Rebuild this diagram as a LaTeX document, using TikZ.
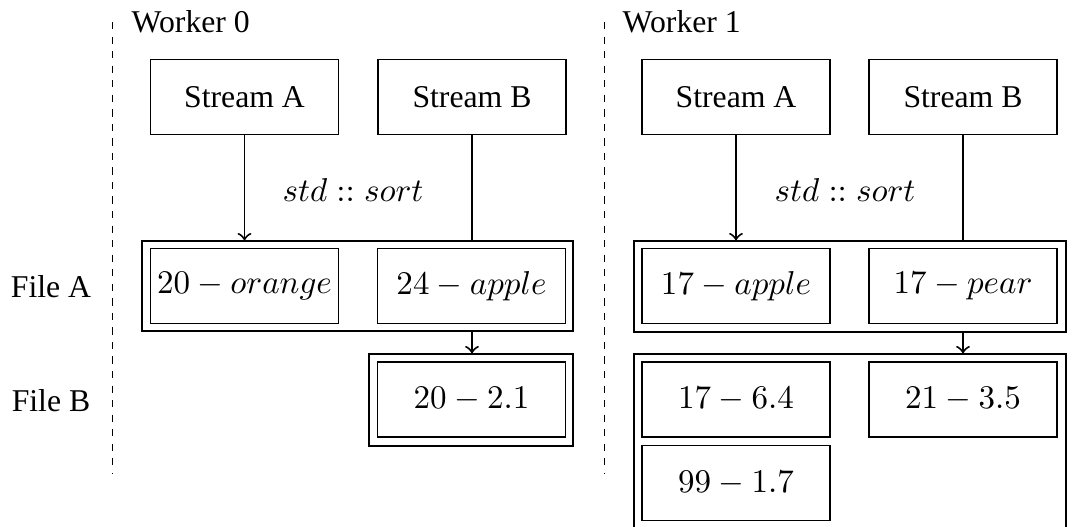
\documentclass[tikz,border=0pt]{standalone}
\usepackage[no-math]{fontspec}
\setmainfont{Liberation Serif}
\DeclareSymbolFont{operators}{OT1}{cmr}{m}{n}
\SetSymbolFont{operators}{bold}{OT1}{cmr}{bx}{n}
\usetikzlibrary{fit}
\begin{document}
\begin{tikzpicture}[x=0.010636cm,y=-0.010636cm,
  box/.style={draw,rectangle,minimum width=2cm,minimum height=0.8cm,inner sep=0pt,font=\fontsize{9.6}{11.5}\selectfont},
  outerbox/.style={draw,rectangle,inner sep=0pt},
  lbl/.style={font=\fontsize{9.6}{11.5}\selectfont,inner sep=0pt},
  divider/.style={dash pattern=on 2.2pt off 2.2pt},
  conn/.style={->,semithick},
  plain/.style={semithick}]
\clip (0,0) rectangle (1085,527);
% dividers
\coordinate (d0t) at (112.5,22); \coordinate (d0b) at (112.5,473);
\coordinate (d1t) at (604.5,22); \coordinate (d1b) at (604.5,473);
\draw[divider] (d0t) -- (d0b);
\draw[divider] (d1t) -- (d1b);
% labels
\node[lbl,anchor=west] (w0) at (131,22) {Worker 0};
\node[lbl,anchor=west] (w1) at (622,22) {Worker 1};
\node[lbl] (fileA) at (51,287) {File A};
\node[lbl] (fileB) at (51,401) {File B};
% Worker 0
\node[box] (sa0) at (244.5,97) {Stream A};
\node[box] (sb0) at (472,97) {Stream B};
\node[outerbox,fit={(142,241) (573,331)}] (fa0) {};
\node[box] (a00) at (244.5,286) {$20-orange$};
\node[box] (a01) at (471.5,286) {$24-apple$};
\node[outerbox,fit={(369,354) (573,446)}] (fb0) {};
\node[box] (b00) at (471.5,399.5) {$20-2.1$};
\node[lbl] (sort0) at (353,190) {$std::sort$};
\draw[conn] (sa0) -- (sa0 |- fa0.north);
\draw[plain] (sb0) -- (sb0 |- fa0.north);
\draw[conn] (sb0 |- fa0.south) -- (sb0 |- fb0.north);
% Worker 1
\node[box] (sa1) at (736,97) {Stream A};
\node[box] (sb1) at (963,97) {Stream B};
\node[outerbox,fit={(634,241) (1066,332)}] (fa1) {};
\node[box] (a10) at (736,286) {$17-apple$};
\node[box] (a11) at (963,286) {$17-pear$};
\node[outerbox,fit={(634,354) (1066,540)}] (fb1) {};
\node[box] (b10) at (736,399.5) {$17-6.4$};
\node[box] (b11) at (963,399.5) {$21-3.5$};
\node[box] (b12) at (736,483) {$99-1.7$};
\node[lbl] (sort1) at (845,190) {$std::sort$};
\draw[conn] (sa1) -- (sa1 |- fa1.north);
\draw[plain] (sb1) -- (sb1 |- fa1.north);
\draw[conn] (sb1 |- fa1.south) -- (sb1 |- fb1.north);
\end{tikzpicture}
\end{document}
